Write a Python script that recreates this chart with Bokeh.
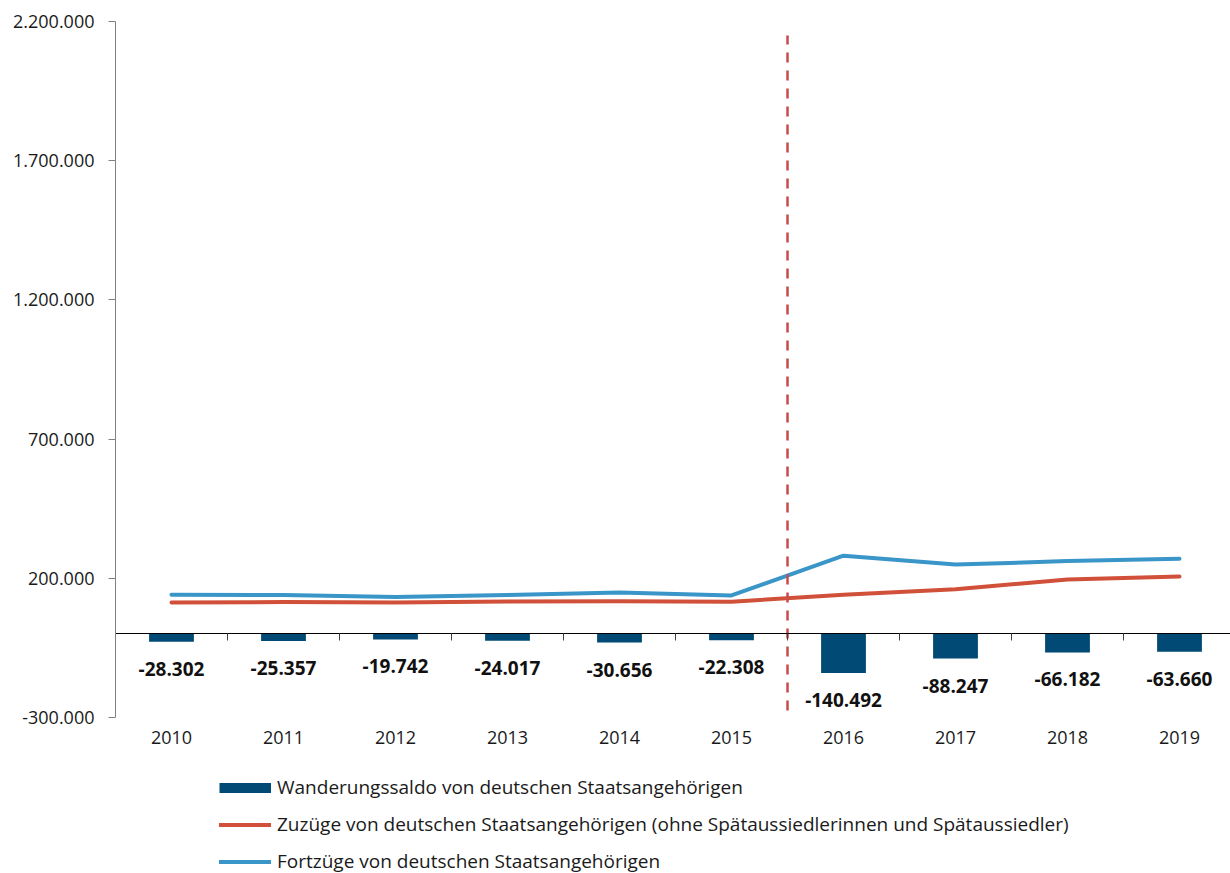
from bokeh.plotting import figure
from bokeh.layouts import column
from bokeh.models import Range1d, LinearAxis, FixedTicker, ColumnDataSource, Legend, LegendItem
from bokeh.core.properties import value
from bokeh.embed import file_html
from bokeh.resources import INLINE

years = ["2010", "2011", "2012", "2013", "2014", "2015", "2016", "2017", "2018", "2019"]
saldo = [-28302, -25357, -19742, -24017, -30656, -22308, -140492, -88247, -66182, -63660]
saldo_labels = ["-28.302", "-25.357", "-19.742", "-24.017", "-30.656", "-22.308",
                "-140.492", "-88.247", "-66.182", "-63.660"]
zuzuege = [112700, 114700, 113500, 116300, 117900, 116000, 140900, 161000, 195700, 206600]
fortzuege = [141000, 140100, 133200, 140300, 148600, 138300, 281400, 249200, 261900, 270300]

y_ticks = [-300000, 200000, 700000, 1200000, 1700000, 2200000]
y_tick_labels = ["-300.000", "200.000", "700.000", "1.200.000", "1.700.000", "2.200.000"]

# dashed marker between 2015 and 2016
break_position = 6
break_top = 2150000
break_bottom = -275000

legend_labels = [
    "Wanderungssaldo von deutschen Staatsangehörigen",
    "Zuzüge von deutschen Staatsangehörigen (ohne Spätaussiedlerinnen und Spätaussiedler)",
    "Fortzüge von deutschen Staatsangehörigen",
]

BAR = "#004a75"
RED = "#d0503a"
BLUE = "#3a95c8"
DASH = "#c84b4b"
TXT = "#1a1a1a"
FONT = "Open Sans"

W = 1230
H_MAIN = 767
H_LEG = 106

xs = [i + 0.5 for i in range(len(years))]
src = ColumnDataSource(dict(x=xs, year=years, saldo=saldo, lab=saldo_labels,
                            zu=zuzuege, fort=fortzuege))

p = figure(width=W, height=H_MAIN, output_backend="svg", toolbar_location=None,
           x_range=Range1d(0, (W - 115) / 112), y_range=Range1d(-300000, 2200000),
           x_axis_location=None, y_axis_location=None,
           min_border_left=115, min_border_top=21, min_border_bottom=H_MAIN - 717,
           min_border_right=0)
p.grid.visible = False
p.outline_line_color = None
p.background_fill_color = "white"
p.border_fill_color = "white"

# y axis
yaxis = LinearAxis(ticker=FixedTicker(ticks=y_ticks),
                   major_label_overrides={t: l for t, l in zip(y_ticks, y_tick_labels)})
yaxis.axis_line_color = "#808080"
yaxis.major_tick_line_color = "#808080"
yaxis.major_tick_out = 7
yaxis.major_tick_in = 0
yaxis.minor_tick_line_color = None
yaxis.major_label_standoff = 14
yaxis.major_label_text_font = FONT
yaxis.major_label_text_font_size = "18px"
yaxis.major_label_text_color = TXT
p.add_layout(yaxis, "left")

# year labels axis
xaxis = LinearAxis(ticker=FixedTicker(ticks=xs),
                   major_label_overrides={x: y for x, y in zip(xs, years)})
xaxis.axis_line_color = None
xaxis.major_tick_line_color = None
xaxis.major_tick_out = 0
xaxis.major_tick_in = 0
xaxis.minor_tick_line_color = None
xaxis.major_label_standoff = 13
xaxis.major_label_text_font = FONT
xaxis.major_label_text_font_size = "18px"
xaxis.major_label_text_color = TXT
p.add_layout(xaxis, "below")

# zero line axis with category boundary ticks
bounds = list(range(len(years) + 1))
zaxis = LinearAxis(fixed_location=0, ticker=FixedTicker(ticks=bounds),
                   major_label_overrides={b: "" for b in bounds})
zaxis.axis_line_color = "black"
zaxis.axis_line_width = 1
zaxis.major_tick_line_color = "#404040"
zaxis.major_tick_out = 7
zaxis.major_tick_in = 0
zaxis.minor_tick_line_color = None
zaxis.major_label_text_font_size = "1px"
zaxis.major_label_standoff = 0
p.add_layout(zaxis, "below")

p.vbar(x="x", top="saldo", bottom=0, width=0.4, fill_color=BAR, line_color=None, source=src)
p.line(x="x", y="zu", line_width=4, line_color=RED, line_cap="round", line_join="round", source=src)
p.line(x="x", y="fort", line_width=4, line_color=BLUE, line_cap="round", line_join="round", source=src)

p.segment(x0=[break_position], y0=[break_bottom], x1=[break_position], y1=[break_top],
          line_color=DASH, line_width=2.5, line_dash="10 8")

p.text(x="x", y="saldo", text="lab", source=src, text_align="center", text_baseline="middle",
       y_offset=27, text_font=value(FONT), text_font_style="bold", text_font_size="19px",
       text_color="#111111")

# legend figure below the chart (frame aligned with the chart's frame by the column)
lf = figure(width=W, height=H_LEG, output_backend="svg", toolbar_location=None,
            x_range=Range1d(0, 1), y_range=Range1d(0, 1),
            x_axis_location=None, y_axis_location=None,
            min_border_left=0, min_border_right=0, min_border_top=0, min_border_bottom=0)
lf.grid.visible = False
lf.outline_line_color = None
lf.background_fill_color = "white"
lf.border_fill_color = "white"

r_bar = lf.line(x="x", y="saldo", source=src, line_width=10, line_color=BAR, line_cap="butt", visible=False)
r_red = lf.line(x="x", y="zu", source=src, line_width=4, line_color=RED, line_cap="round", visible=False)
r_blue = lf.line(x="x", y="fort", source=src, line_width=4, line_color=BLUE, line_cap="round", visible=False)

ROW = 37
TOP = 1.5
legend = Legend(items=[LegendItem(label=legend_labels[0], renderers=[r_bar]),
                       LegendItem(label=legend_labels[1], renderers=[r_red]),
                       LegendItem(label=legend_labels[2], renderers=[r_blue])],
                location=(104, H_LEG - TOP - 3 * ROW), orientation="vertical")
legend.glyph_width = 52
legend.glyph_height = ROW
legend.label_height = ROW
legend.spacing = 0
legend.padding = 0
legend.margin = 0
legend.label_standoff = 6
legend.border_line_color = None
legend.background_fill_alpha = 0
legend.inactive_fill_alpha = 0
legend.label_text_font = FONT
legend.label_text_font_size = "19px"
legend.label_text_color = TXT
lf.add_layout(legend, "center")

layout = column(p, lf, spacing=0)
open("out.html", "w").write(file_html(layout, INLINE))
